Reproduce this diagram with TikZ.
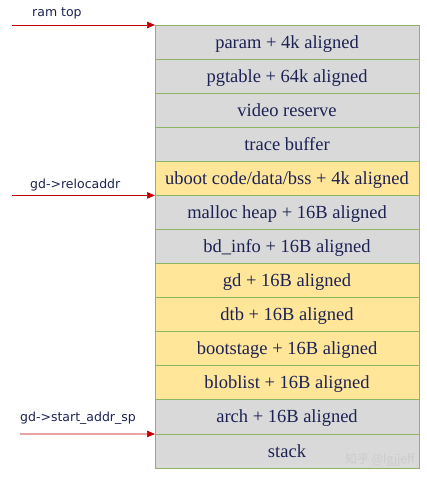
\documentclass[tikz,border=0pt]{standalone}
\usepackage{fontspec}
\setmainfont{Liberation Serif}
\newfontfamily\cellfont{Liberation Serif}
\newfontfamily\lblfont{DejaVu Sans}
\newfontfamily\cjkfont{Noto Sans CJK SC}
\usetikzlibrary{arrows.meta}
\definecolor{cellgray}{RGB}{217,217,217}
\definecolor{cellyellow}{RGB}{255,230,153}
\definecolor{cellborder}{RGB}{140,180,100}
\definecolor{txtnavy}{RGB}{28,34,84}
\definecolor{arrowred}{RGB}{192,0,0}
\tikzset{
  cell/.style={draw=cellborder, line width=0.9pt, fill=cellgray, minimum width=264pt, minimum height=34.08pt, inner sep=0pt, outer sep=0pt, text height=14pt, text depth=2pt, anchor=north west, text=txtnavy, font=\cellfont\fontsize{18.5}{21}\selectfont},
  ycell/.style={cell, fill=cellyellow},
  ptr/.style={draw=arrowred, line width=0.7pt, -{Triangle[length=8pt,width=6.5pt]}},
  lbl/.style={text=txtnavy, font=\lblfont\fontsize{12.5}{15}\selectfont, anchor=base west, inner sep=0pt}
}
\begin{document}
\begin{tikzpicture}[x=1pt,y=-1pt]
\useasboundingbox (0,0) rectangle (426,478);
\node[cell]  (r1)  at (155,25) {param + 4k aligned};
\node[cell]  (r2)  at (r1.south west) {pgtable + 64k aligned};
\node[cell]  (r3)  at (r2.south west) {video reserve};
\node[cell]  (r4)  at (r3.south west) {trace buffer};
\node[ycell] (r5)  at (r4.south west) {uboot code/data/bss + 4k aligned};
\node[cell]  (r6)  at (r5.south west) {malloc heap + 16B aligned};
\node[cell]  (r7)  at (r6.south west) {bd\_info + 16B aligned};
\node[ycell] (r8)  at (r7.south west) {gd + 16B aligned};
\node[ycell] (r9)  at (r8.south west) {dtb + 16B aligned};
\node[ycell] (r10) at (r9.south west) {bootstage + 16B aligned};
\node[ycell] (r11) at (r10.south west) {bloblist + 16B aligned};
\node[cell]  (r12) at (r11.south west) {arch + 16B aligned};
\node[cell]  (r13) at (r12.south west) {stack};
\coordinate (s1) at (12,25);
\coordinate (s2) at (12,195.4);
\coordinate (s3) at (20,433.9);
\draw[ptr] (s1) -- (r1.north west);
\draw[ptr] (s2) -- (r6.north west);
\draw[ptr] (s3) -- (r13.north west);
\node[lbl] (l1) at (32,17) {ram top};
\node[lbl] (l2) at (30,188) {gd->relocaddr};
\node[lbl] (l3) at (20,421) {gd->start\_addr\_sp};
\node[text=white!80!black, font=\cjkfont\fontsize{12}{14}\selectfont, anchor=base east, inner sep=0pt] (wm) at (415,463) {知乎 @lgjjeff};
\end{tikzpicture}
\end{document}
